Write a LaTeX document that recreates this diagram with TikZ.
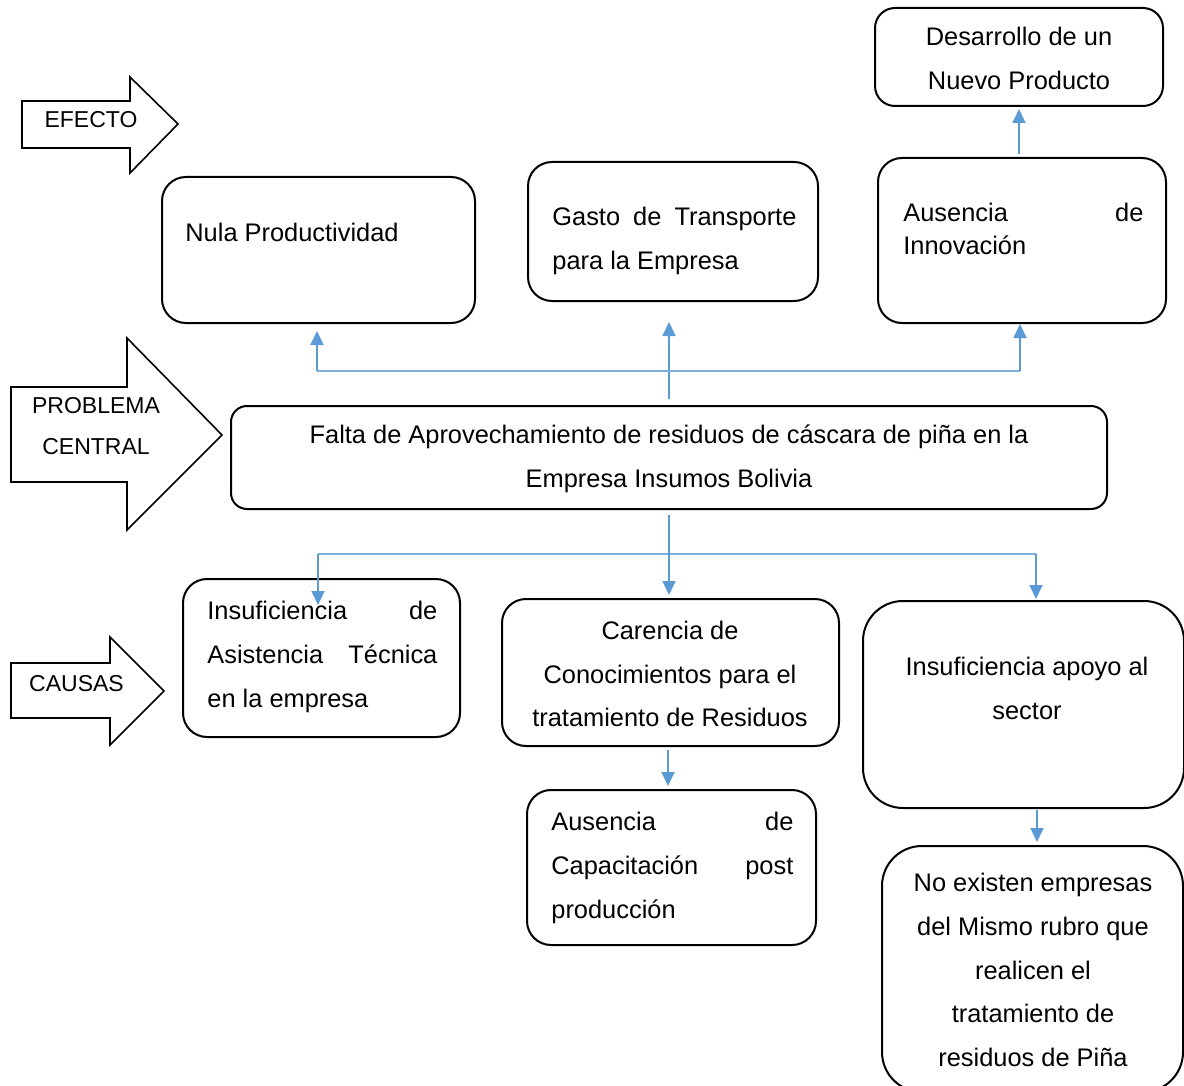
\documentclass[tikz,border=0pt]{standalone}
\usepackage{fontspec}
\setmainfont{Liberation Sans}
\usetikzlibrary{arrows.meta}
\definecolor{cblue}{HTML}{5B9BD5}
\begin{document}
\begin{tikzpicture}[x=0.5pt,y=-0.5pt,
  box/.style={draw, line width=1pt, rounded corners=12pt, inner sep=0pt},
  conn/.style={draw=cblue, line width=0.9pt, -{Triangle[length=7pt,width=6.5pt]}},
  hline/.style={draw=cblue!80, line width=0.6pt},
  tx/.style={inner sep=0pt, font=\fontsize{12.7}{15}\selectfont},
  lb/.style={inner sep=0pt, font=\fontsize{11.5}{14}\selectfont},
  barrow/.style={draw, line width=0.8pt, line join=miter}]
\useasboundingbox (0,0) rectangle (1184,1086);

% block arrows
\draw[barrow] (22,101) -- (130,101) -- (130,77) -- (178,124) -- (130,173) -- (130,148) -- (22,148) -- cycle;
\draw[barrow] (11,387) -- (127,387) -- (127,338) -- (222,435) -- (127,530) -- (127,482) -- (11,482) -- cycle;
\draw[barrow] (11,663) -- (110,663) -- (110,637) -- (164,691) -- (110,745) -- (110,718) -- (11,718) -- cycle;
\node[lb, anchor=base] (lef) at (91,128) {EFECTO};
\node[lb, anchor=base] (lpc1) at (96,413) {PROBLEMA};
\node[lb, anchor=base] (lpc2) at (96,454) {CENTRAL};
\node[lb, anchor=base] (lca) at (76.5,691) {CAUSAS};

% boxes
\node[box, minimum width=144pt, minimum height=49pt, rounded corners=10pt] (A) at (1019,57) {};
\node[box, minimum width=156.5pt, minimum height=73pt] (B) at (318.5,250) {};
\node[box, minimum width=145pt, minimum height=69.5pt] (C) at (673,231.5) {};
\node[box, minimum width=144pt, minimum height=82.5pt] (D) at (1022,240.5) {};
\node[box, minimum width=438pt, minimum height=51.5pt, rounded corners=8pt] (E) at (669,457.5) {};
\node[box, minimum width=138.5pt, minimum height=79pt] (F) at (321.5,658) {};
\node[box, minimum width=168.5pt, minimum height=73.5pt] (G) at (670.5,672.5) {};
\node[box, minimum width=160.5pt, minimum height=103.5pt, rounded corners=20pt] (H) at (1023.5,704.5) {};
\node[box, minimum width=144.5pt, minimum height=77.5pt] (I) at (671.5,867.5) {};
\node[box, minimum width=150.5pt, minimum height=123pt, rounded corners=20pt] (J) at (1032.5,969) {};

% texts
\node[tx, anchor=base] (a1) at (1019,46) {Desarrollo de un};
\node[tx, anchor=base] (a2) at (1019,90) {Nuevo Producto};
\node[tx, anchor=base west] (b1) at (185,242) {Nula Productividad};
\node[tx, anchor=base west] (c1) at (552,226) {\makebox[122pt][s]{Gasto de Transporte}};
\node[tx, anchor=base west] (c2) at (552,270) {para la Empresa};
\node[tx, anchor=base west] (d1) at (903,221) {\makebox[120pt][s]{Ausencia de}};
\node[tx, anchor=base west] (d2) at (903,255) {Innovación};
\node[tx, anchor=base] (e1) at (669,443) {Falta de Aprovechamiento de residuos de cáscara de piña en la};
\node[tx, anchor=base] (e2) at (669,487) {Empresa Insumos Bolivia};
\node[tx, anchor=base west] (f1) at (207,619) {\makebox[115pt][s]{Insuficiencia de}};
\node[tx, anchor=base west] (f2) at (207,663) {\makebox[115pt][s]{Asistencia Técnica}};
\node[tx, anchor=base west] (f3) at (207,707) {en la empresa};
\node[tx, anchor=base] (g1) at (670,639) {Carencia de};
\node[tx, anchor=base] (g2) at (670,683) {Conocimientos para el};
\node[tx, anchor=base] (g3) at (670,726) {tratamiento de Residuos};
\node[tx, anchor=base] (h1) at (1027,675) {Insuficiencia apoyo al};
\node[tx, anchor=base] (h2) at (1027,719) {sector};
\node[tx, anchor=base west] (i1) at (551,830) {\makebox[121pt][s]{Ausencia de}};
\node[tx, anchor=base west] (i2) at (551,874) {\makebox[121pt][s]{Capacitación post}};
\node[tx, anchor=base west] (i3) at (551,918) {producción};
\node[tx, anchor=base] (j1) at (1033,891) {No existen empresas};
\node[tx, anchor=base] (j2) at (1033,935) {del Mismo rubro que};
\node[tx, anchor=base] (j3) at (1033,979) {realicen el};
\node[tx, anchor=base] (j4) at (1033,1022) {tratamiento de};
\node[tx, anchor=base] (j5) at (1033,1066) {residuos de Piña};

% upper connectors
\coordinate (ht) at (669,371);
\coordinate (htl) at (317,371);
\coordinate (htr) at (1020,371);
\draw[conn] ([yshift=3pt]E.north) -- ([yshift=-10pt]C.south -| E.north);
\draw[hline] (htl) -- (htr);
\draw[conn] (htl) -- ([yshift=-3.5pt]htl |- B.south);
\draw[conn] (htr) -- (htr |- D.south);
\draw[conn] ([yshift=1.5pt]A.south |- D.north) -- ([yshift=-1pt]A.south);

% lower connectors
\coordinate (hbl) at (318,554);
\coordinate (hbr) at (1036,554);
\draw[hline] (hbl) -- (hbr);
\draw[conn] ([yshift=-2.5pt]E.south) -- ([yshift=1.5pt]E.south |- G.north);
\draw[conn] (hbl) -- ([yshift=-13.5pt]hbl |- F.north);
\draw[conn] (hbr) -- ([yshift=0.5pt]hbr |- H.north);
\coordinate (gi) at (668,750);
\draw[conn] (gi) -- ([yshift=1.5pt]gi |- I.north);
\coordinate (hj) at (1037,810);
\draw[conn] (hj) -- ([yshift=1.5pt]hj |- J.north);
\end{tikzpicture}
\end{document}
